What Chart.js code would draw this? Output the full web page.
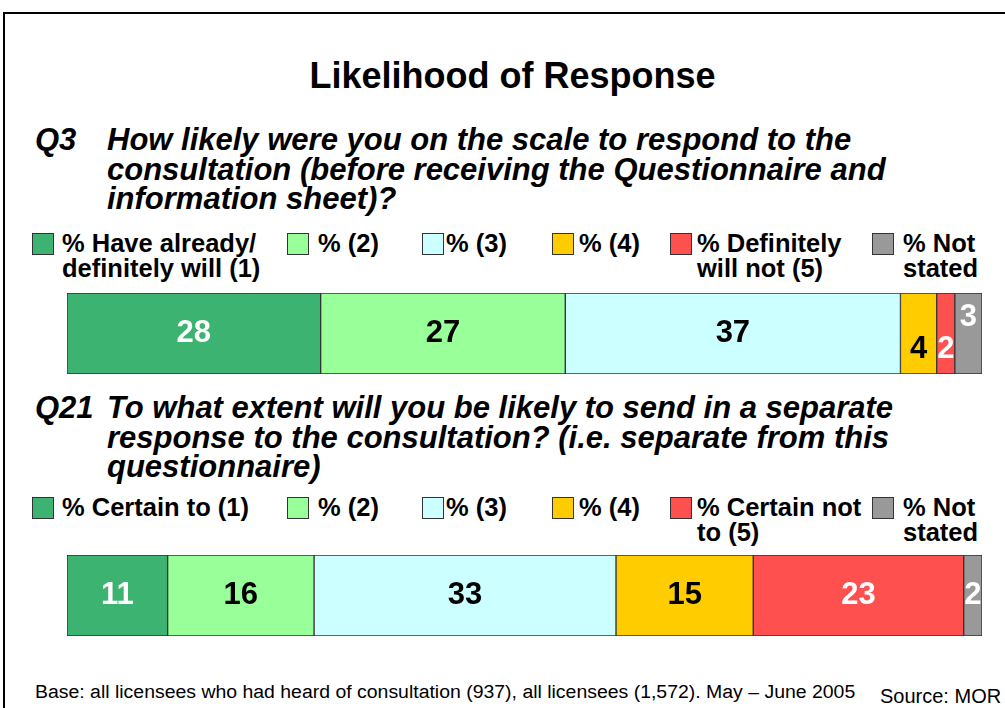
<!DOCTYPE html>
<html>
<head>
<meta charset="utf-8">
<script src="https://cdn.jsdelivr.net/npm/chart.js@4.4.0/dist/chart.umd.min.js"></script>
<style>
    html, body {
        margin: 0;
        padding: 0;
        background: #ffffff;
        width: 1005px;
        height: 708px;
        overflow: hidden;
        font-family: 'Liberation Sans', Arial, sans-serif;
        color: #000;
    }
    .frame-top { position: absolute; left: 3px; top: 12px; width: 1010px; height: 2px; background: #000; }
    .frame-left { position: absolute; left: 3px; top: 12px; width: 2px; height: 710px; background: #000; }
    .title {
        position: absolute; left: 0; width: 1025px; top: 54px;
        text-align: center; font-weight: bold; font-size: 36px; line-height: 44px;
    }
    .question {
        position: absolute; left: 35px; font-weight: bold; font-style: italic;
        font-size: 31px; line-height: 29.5px;
    }
    .question .qnum { position: absolute; left: 0; top: 0; }
    .question .qtext { position: absolute; left: 72px; top: 0; white-space: nowrap; }
    .swatch { position: absolute; width: 22px; height: 22px; border: 1px solid #333; box-sizing: border-box; }
    .legend-text {
        position: absolute; white-space: nowrap; font-weight: bold;
        font-size: 25.5px; line-height: 25px;
    }
    .bar-box { position: absolute; left: 67px; width: 915px; height: 81px; }
    .footer {
        position: absolute; left: 35px; top: 681px; font-size: 18px; line-height: 22px;
        white-space: nowrap; transform: scaleX(1.08); transform-origin: left center;
    }
    .source { position: absolute; left: 880px; top: 684px; font-size: 20px; line-height: 24px; white-space: nowrap; }
</style>
</head>
<body>
<div class="frame-top"></div>
<div class="frame-left"></div>

<div class="title">Likelihood of Response</div>

<div class="question" style="top:125px">
    <span class="qnum">Q3</span>
    <div class="qtext">How likely were you on the scale to respond to the<br>consultation (before receiving the Questionnaire and<br>information sheet)?</div>
</div>

<div id="legend1"></div>
<div class="bar-box" style="top:293px"><canvas id="chartQ3"></canvas></div>

<div class="question" style="top:393px">
    <span class="qnum">Q21</span>
    <div class="qtext">To what extent will you be likely to send in a separate<br>response to the consultation? (i.e. separate from this<br>questionnaire)</div>
</div>

<div id="legend2"></div>
<div class="bar-box" style="top:555px"><canvas id="chartQ21"></canvas></div>

<div class="footer">Base: all licensees who had heard of consultation (937), all licensees (1,572). May &ndash; June 2005</div>
<div class="source">Source: MOR</div>

<script>
// Legend labels (one array entry per line)
const q3Categories = [
    ['% Have already/', 'definitely will (1)'],
    ['% (2)'],
    ['% (3)'],
    ['% (4)'],
    ['% Definitely', 'will not (5)'],
    ['% Not', 'stated']
];
const q21Categories = [
    ['% Certain to (1)'],
    ['% (2)'],
    ['% (3)'],
    ['% (4)'],
    ['% Certain not', 'to (5)'],
    ['% Not', 'stated']
];

// Percentages
const q3Values = [28, 27, 37, 4, 2, 3];
const q21Values = [11, 16, 33, 15, 23, 2];

// Segment colours and label colours
const segmentColors = ['#3cb371', '#99ff99', '#ccffff', '#ffcc00', '#ff5050', '#999999'];
const labelColors = ['#ffffff', '#000000', '#000000', '#000000', '#ffffff', '#ffffff'];

// Legend layout: swatch left edge and text left edge for each item
const legendSwatchX = [32, 287, 422, 552, 670, 872];
const legendTextX = [62, 318, 446, 579, 697, 903];

/**
 * Build an HTML legend for a row
 */
function buildLegend(containerId, labels, top) {
    const box = document.getElementById(containerId);
    labels.forEach(function(lines, i) {
        const sw = document.createElement('div');
        sw.className = 'swatch';
        sw.style.left = legendSwatchX[i] + 'px';
        sw.style.top = (top + 2) + 'px';
        sw.style.background = segmentColors[i];
        box.appendChild(sw);

        const txt = document.createElement('div');
        txt.className = 'legend-text';
        txt.style.left = legendTextX[i] + 'px';
        txt.style.top = top + 'px';
        txt.innerHTML = lines.join('<br>');
        box.appendChild(txt);
    });
}

/**
 * Draws the value inside each stacked segment
 */
const segmentValuePlugin = {
    id: 'segmentValues',
    afterDatasetsDraw(chart, args, opts) {
        const ctx = chart.ctx;
        const shifts = opts.shifts || {};
        ctx.save();
        ctx.font = 'bold 31px "Liberation Sans", Arial, sans-serif';
        ctx.textAlign = 'center';
        ctx.textBaseline = 'middle';
        chart.data.datasets.forEach(function(ds, i) {
            const bar = chart.getDatasetMeta(i).data[0];
            if (!bar) return;
            const cx = (bar.x + bar.base) / 2;
            const cy = bar.y + (shifts[i] || 0);
            ctx.fillStyle = labelColors[i];
            ctx.fillText(String(ds.data[0]), cx, cy);
        });
        ctx.restore();
    }
};

/**
 * Create a single 100% stacked horizontal bar
 */
function createStackedBar(canvasId, labels, values, shifts) {
    const total = values.reduce(function(a, b) { return a + b; }, 0);
    const datasets = values.map(function(v, i) {
        return {
            label: labels[i].join(' '),
            data: [v],
            backgroundColor: segmentColors[i],
            borderColor: '#333333',
            borderWidth: 1,
            borderSkipped: false,
            barPercentage: 1,
            categoryPercentage: 1
        };
    });

    return new Chart(document.getElementById(canvasId), {
        type: 'bar',
        data: { labels: [''], datasets: datasets },
        options: {
            indexAxis: 'y',
            responsive: true,
            maintainAspectRatio: false,
            animation: false,
            layout: { padding: 0 },
            scales: {
                x: { stacked: true, min: 0, max: total, display: false },
                y: { stacked: true, display: false }
            },
            plugins: {
                legend: { display: false },
                tooltip: { enabled: false },
                segmentValues: { shifts: shifts }
            }
        },
        plugins: [segmentValuePlugin]
    });
}

buildLegend('legend1', q3Categories, 231);
buildLegend('legend2', q21Categories, 495);

createStackedBar('chartQ3', q3Categories, q3Values, { 3: 16, 4: 16, 5: -16 });
createStackedBar('chartQ21', q21Categories, q21Values, {});
</script>
</body>
</html>
